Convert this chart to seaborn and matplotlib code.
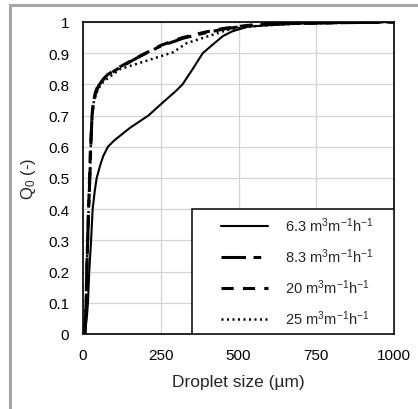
import matplotlib
matplotlib.use('Agg')
import matplotlib.pyplot as plt
from matplotlib.patches import Rectangle
from matplotlib.ticker import FuncFormatter
import numpy as np
import pandas as pd
import seaborn as sns

# droplet size (um) vs cumulative number fraction Q0
x_63 = [6, 12, 16, 20, 26, 31, 38, 44, 55, 65, 80, 100, 150, 210, 260, 300, 320, 350, 385, 420, 450, 480, 530, 600, 700, 850, 1000]
q_63 = [0, 0.05, 0.1, 0.2, 0.3, 0.4, 0.46, 0.5, 0.54, 0.57, 0.6, 0.62, 0.66, 0.70, 0.745, 0.78, 0.80, 0.845, 0.90, 0.93, 0.955, 0.97, 0.985, 0.99, 0.995, 0.998, 1.0]

x_83 = [6, 10, 12, 15, 18, 22, 25, 27, 29, 33, 40, 50, 60, 80, 120, 183, 248, 322, 392, 450, 527, 600, 700, 850, 1000]
q_83 = [0, 0.1, 0.2, 0.3, 0.4, 0.5, 0.6, 0.65, 0.7, 0.74, 0.77, 0.795, 0.81, 0.83, 0.855, 0.89, 0.922, 0.948, 0.965, 0.977, 0.988, 0.994, 0.996, 0.998, 1.0]

x_20 = [6, 10, 12, 15, 18, 21, 24, 27, 29, 33, 40, 50, 60, 80, 120, 185, 250, 320, 390, 450, 527, 600, 700, 850, 1000]
q_20 = [0, 0.1, 0.2, 0.3, 0.4, 0.5, 0.6, 0.65, 0.7, 0.74, 0.775, 0.8, 0.812, 0.832, 0.857, 0.892, 0.925, 0.95, 0.967, 0.979, 0.989, 0.994, 0.996, 0.998, 1.0]

x_25 = [6, 10, 12, 15, 18, 22, 25, 27, 30, 34, 42, 52, 62, 80, 119, 205, 290, 333, 398, 462, 530, 600, 700, 850, 1000]
q_25 = [0, 0.1, 0.2, 0.3, 0.4, 0.5, 0.6, 0.65, 0.7, 0.74, 0.77, 0.79, 0.805, 0.82, 0.849, 0.876, 0.903, 0.932, 0.953, 0.974, 0.985, 0.99, 0.995, 0.998, 1.0]

labels = ["6.3 m$^3$m$^{-1}$h$^{-1}$", "8.3 m$^3$m$^{-1}$h$^{-1}$",
          "20 m$^3$m$^{-1}$h$^{-1}$", "25 m$^3$m$^{-1}$h$^{-1}$"]

sns.set_style("white")
plt.rcParams['font.family'] = ['Liberation Sans', 'DejaVu Sans']
plt.rcParams['mathtext.fontset'] = 'custom'
plt.rcParams['mathtext.rm'] = 'Liberation Sans'
plt.rcParams['mathtext.it'] = 'Liberation Sans'

fig = plt.figure(figsize=(4.18, 4.10), dpi=100)
ax = fig.add_axes([83/418, 1-335/410, 311/418, 312/410])

# grey frame around the chart area
fig.patches.append(Rectangle((10/418, -0.1), 1.2, 1 - 6/410 + 0.1, transform=fig.transFigure,
                             fill=False, edgecolor='#a6a6a6', lw=2.2, zorder=0))

series = [(x_63, q_63, '-', 1.5), (x_83, q_83, (0, (8, 2.5, 2.5, 2.5)), 2.2),
          (x_20, q_20, (0, (4, 3)), 2.2), (x_25, q_25, (0, (0.8, 1.4)), 1.8)]
for (xs, qs, ls, lw), lab in zip(series, labels):
    df = pd.DataFrame({'size': xs, 'Q0': qs})
    sns.lineplot(data=df, x='size', y='Q0', ax=ax, color='black', linestyle=ls, lw=lw,
                 label=lab, estimator=None, sort=False)

ax.set_xlim(0, 1000)
ax.set_ylim(0, 1)
ax.set_xticks([0, 250, 500, 750, 1000])
ax.set_yticks(np.arange(0, 1.01, 0.1))
ax.yaxis.set_major_formatter(FuncFormatter(lambda v, p: f"{v:g}"))
ax.grid(True, color='#d4d4d4', lw=0.9)
ax.set_axisbelow(True)
for s in ax.spines.values():
    s.set_color('black')
    s.set_linewidth(1.2)
ax.tick_params(length=0, pad=10, labelsize=11, colors='black')
ax.set_xlabel("Droplet size (\u00b5m)", fontsize=12.5, labelpad=9)
ax.set_ylabel("Q$_0$ (-)", fontsize=12, labelpad=7)

# legend box: white frame drawn separately, entries centred inside it
ax.add_patch(Rectangle((0.35, 0), 0.65, 0.4, transform=ax.transAxes, facecolor='white',
                       edgecolor='black', lw=1.1, zorder=5))
leg = ax.legend(loc='center', bbox_to_anchor=(0.69, 0.2), frameon=False, fontsize=10.5,
                handlelength=3.2, labelspacing=0.85, borderaxespad=0, borderpad=0,
                handletextpad=1.2)
leg.set_zorder(6)

fig.savefig('out.png', dpi=100)
